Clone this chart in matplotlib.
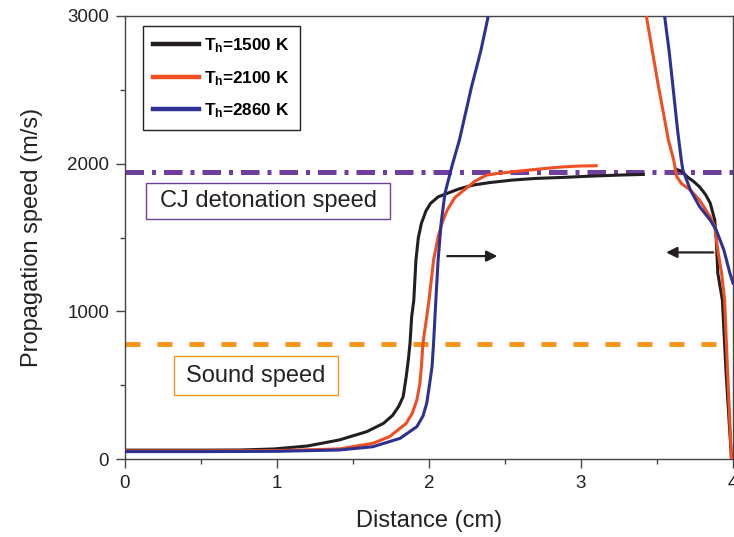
import matplotlib
matplotlib.use('Agg')
import matplotlib.pyplot as plt
from matplotlib.patches import Rectangle

plt.rcParams['font.family'] = ['Liberation Sans', 'DejaVu Sans']
plt.rcParams['mathtext.fontset'] = 'custom'
plt.rcParams['mathtext.rm'] = 'Liberation Sans'
plt.rcParams['mathtext.bf'] = 'Liberation Sans:bold'

# distance (cm), speed (m/s)
x_1500_a = [0.0, 0.5, 0.76, 0.98, 1.2, 1.41, 1.59, 1.70, 1.76, 1.80, 1.83, 1.85, 1.865, 1.875,
            1.886, 1.90, 1.914, 1.93, 1.95, 1.98, 2.01, 2.06, 2.12, 2.20, 2.29, 2.40, 2.55,
            2.70, 2.88, 3.05, 3.26, 3.41]
v_1500_a = [60, 60, 61, 68, 88, 129, 185, 241, 295, 355, 422, 557, 680, 783,
            963, 1076, 1347, 1500, 1596, 1680, 1731, 1775, 1799, 1830, 1855, 1872, 1889,
            1900, 1907, 1915, 1923, 1927]
x_1500_b = [3.63, 3.66, 3.70, 3.74, 3.78, 3.82, 3.85, 3.88, 3.89, 3.90, 3.93, 3.955, 3.99]
v_1500_b = [1960, 1950, 1910, 1880, 1843, 1790, 1733, 1618, 1483, 1259, 1076, 575, 0]

x_2100_a = [0.0, 0.5, 1.0, 1.41, 1.63, 1.74, 1.85, 1.89, 1.92, 1.94, 1.95, 1.96, 1.985, 2.0,
            2.03, 2.06, 2.09, 2.12, 2.17, 2.23, 2.30, 2.38, 2.46, 2.55, 2.66, 2.77, 2.88,
            2.99, 3.10]
v_2100_a = [55, 55, 57, 68, 106, 151, 241, 310, 399, 510, 625, 783, 963, 1076,
            1347, 1505, 1610, 1686, 1770, 1821, 1880, 1923, 1935, 1945, 1957, 1968, 1978,
            1984, 1986]
x_2100_b = [3.43, 3.47, 3.51, 3.55, 3.575, 3.61, 3.63, 3.66, 3.72, 3.78, 3.85, 3.88, 3.90,
            3.925, 3.945, 3.965, 3.99]
v_2100_b = [3000, 2760, 2521, 2300, 2160, 2024, 1912, 1866, 1821, 1753, 1640, 1573, 1415,
            1257, 1076, 575, 0]

x_2860_a = [0.0, 0.5, 1.0, 1.41, 1.63, 1.81, 1.92, 1.96, 1.985, 2.00, 2.02, 2.03, 2.045,
            2.06, 2.08, 2.105, 2.15, 2.20, 2.28, 2.34, 2.39]
v_2860_a = [50, 50, 52, 61, 83, 140, 219, 290, 377, 480, 625, 783, 1076,
            1347, 1600, 1799, 1980, 2160, 2521, 2760, 3000]
x_2860_b = [3.55, 3.58, 3.605, 3.635, 3.66, 3.67, 3.72, 3.78, 3.85, 3.89, 3.94, 3.98, 4.0]
v_2860_b = [3000, 2760, 2521, 2230, 2024, 1957, 1821, 1709, 1618, 1550, 1415, 1257, 1191]

sound_speed = 780
cj_speed = 1945

c_black = '#231f20'
c_red = '#f04e23'
c_blue = '#2e3192'
c_purple = '#6f3f9e'
c_orange = '#f7941d'

fig = plt.figure(figsize=(7.34, 5.37), dpi=100)
ax = fig.add_axes([125/734, 78/537, 608/734, 443/537])

ax.axhline(cj_speed, color=c_purple, lw=3.6, dashes=(3.7, 1.6, 0.8, 1.6), zorder=1)
ax.axhline(sound_speed, color=c_orange, lw=3.6, dashes=(3.0, 3.4), zorder=1)

ax.plot(x_1500_a, v_1500_a, color=c_black, lw=2.2, label=r'$\mathbf{T_h}$=1500 K', zorder=3)
ax.plot(x_1500_b, v_1500_b, color=c_black, lw=2.2, zorder=3)
ax.plot(x_2100_a, v_2100_a, color=c_red, lw=2.2, label=r'$\mathbf{T_h}$=2100 K', zorder=3)
ax.plot(x_2100_b, v_2100_b, color=c_red, lw=2.2, zorder=3)
ax.plot(x_2860_a, v_2860_a, color=c_blue, lw=2.2, label=r'$\mathbf{T_h}$=2860 K', zorder=3)
ax.plot(x_2860_b, v_2860_b, color=c_blue, lw=2.2, zorder=3)

# propagation direction arrows
arrow = dict(arrowstyle='-|>', color=c_black, lw=1.6, mutation_scale=16, shrinkA=0, shrinkB=0)
ax.annotate('', xy=(2.45, 1374), xytext=(2.12, 1374), arrowprops=arrow)
ax.annotate('', xy=(3.56, 1399), xytext=(3.87, 1399), arrowprops=arrow)

# label boxes
ax.add_patch(Rectangle((0.0345, 0.542), 0.4015, 0.081, transform=ax.transAxes,
                       fc='white', ec=c_purple, lw=1.0, zorder=4))
ax.text(0.2352, 0.582, 'CJ detonation speed', transform=ax.transAxes, ha='center',
        va='center', fontsize=17, color='#222222', zorder=5)
ax.add_patch(Rectangle((0.0806, 0.1445), 0.2697, 0.088, transform=ax.transAxes,
                       fc='white', ec=c_orange, lw=1.0, zorder=4))
ax.text(0.2155, 0.188, 'Sound speed', transform=ax.transAxes, ha='center',
        va='center', fontsize=17, color='#222222', zorder=5)

ax.set_xlim(0, 4)
ax.set_ylim(0, 3000)
ax.set_xticks([0, 1, 2, 3, 4])
ax.set_xticks([0.5, 1.5, 2.5, 3.5], minor=True)
ax.set_yticks([0, 1000, 2000, 3000])
ax.set_yticks([500, 1500, 2500], minor=True)
ax.tick_params(which='major', direction='out', length=6.5, width=1, color='#444444',
               labelsize=13.5, labelcolor='#222222', pad=5)
ax.tick_params(which='minor', direction='out', length=3.5, width=1, color='#444444')
for s in ax.spines.values():
    s.set_color('#444444')
    s.set_linewidth(1.0)

ax.set_xlabel('Distance (cm)', fontsize=17, color='#222222', labelpad=13)
ax.set_ylabel('Propagation speed (m/s)', fontsize=17, color='#222222', labelpad=17)

leg = ax.legend(loc='upper left', bbox_to_anchor=(0.0296, 0.977), borderaxespad=0,
                fancybox=False, edgecolor='#222222', framealpha=1, handlelength=2.7,
                handletextpad=0.3, labelspacing=0.8, borderpad=0.6,
                prop={'weight': 'bold', 'size': 12.3})
leg.get_frame().set_linewidth(1.0)
for line in leg.get_lines():
    line.set_linewidth(3.2)

fig.savefig('out.png', dpi=100)
